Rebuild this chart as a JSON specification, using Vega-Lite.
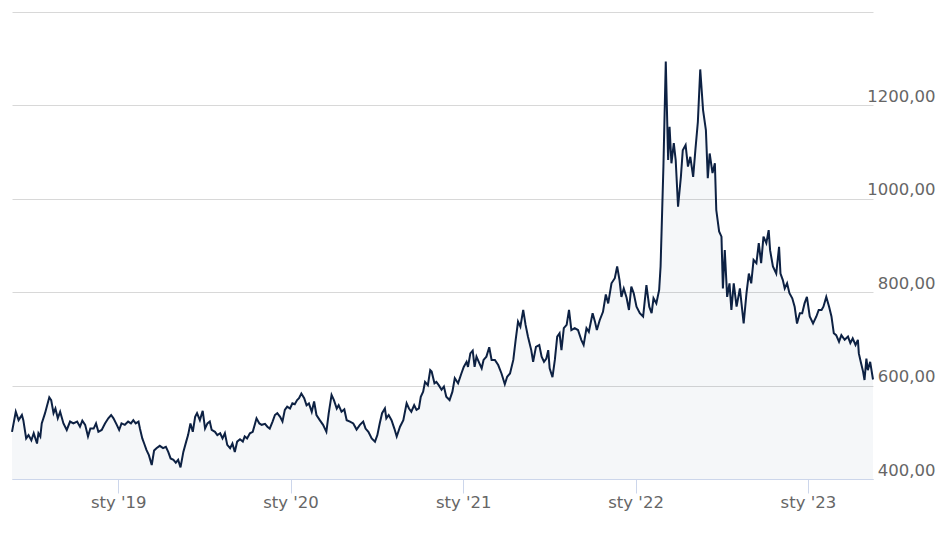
{
  "$schema": "https://vega.github.io/schema/vega-lite/v6.json",
  "width": 861,
  "height": 467,
  "autosize": {"type": "none"},
  "padding": {"left": 12, "top": 12, "right": 75, "bottom": 56},
  "background": "white",
  "config": {"view": {"stroke": null}, "font": "DejaVu Sans"},
  "data": {
    "values": [
      {"date": "2018-05-21", "price": 501}, {"date": "2018-05-29", "price": 544}, {"date": "2018-06-04", "price": 526},
      {"date": "2018-06-11", "price": 537}, {"date": "2018-06-14", "price": 526}, {"date": "2018-06-20", "price": 487},
      {"date": "2018-06-25", "price": 494}, {"date": "2018-07-01", "price": 483}, {"date": "2018-07-06", "price": 498},
      {"date": "2018-07-13", "price": 476}, {"date": "2018-07-16", "price": 498}, {"date": "2018-07-20", "price": 491},
      {"date": "2018-07-23", "price": 519}, {"date": "2018-07-30", "price": 541}, {"date": "2018-08-08", "price": 575},
      {"date": "2018-08-12", "price": 569}, {"date": "2018-08-17", "price": 541}, {"date": "2018-08-21", "price": 551},
      {"date": "2018-08-26", "price": 530}, {"date": "2018-08-31", "price": 544}, {"date": "2018-09-07", "price": 519},
      {"date": "2018-09-14", "price": 505}, {"date": "2018-09-21", "price": 523}, {"date": "2018-09-28", "price": 519},
      {"date": "2018-10-06", "price": 523}, {"date": "2018-10-12", "price": 512}, {"date": "2018-10-17", "price": 525},
      {"date": "2018-10-23", "price": 516}, {"date": "2018-10-29", "price": 491}, {"date": "2018-11-03", "price": 508},
      {"date": "2018-11-10", "price": 508}, {"date": "2018-11-15", "price": 519}, {"date": "2018-11-20", "price": 501},
      {"date": "2018-11-27", "price": 505}, {"date": "2018-12-04", "price": 519}, {"date": "2018-12-11", "price": 530},
      {"date": "2018-12-17", "price": 537}, {"date": "2018-12-22", "price": 530}, {"date": "2018-12-29", "price": 516},
      {"date": "2019-01-03", "price": 505}, {"date": "2019-01-08", "price": 519}, {"date": "2019-01-15", "price": 516},
      {"date": "2019-01-22", "price": 523}, {"date": "2019-01-28", "price": 519}, {"date": "2019-02-02", "price": 526},
      {"date": "2019-02-07", "price": 519}, {"date": "2019-02-13", "price": 523}, {"date": "2019-02-16", "price": 508},
      {"date": "2019-02-21", "price": 487}, {"date": "2019-02-25", "price": 476}, {"date": "2019-03-02", "price": 462},
      {"date": "2019-03-07", "price": 451}, {"date": "2019-03-13", "price": 430}, {"date": "2019-03-18", "price": 461},
      {"date": "2019-03-23", "price": 466}, {"date": "2019-03-30", "price": 471}, {"date": "2019-04-06", "price": 466},
      {"date": "2019-04-12", "price": 469}, {"date": "2019-04-17", "price": 458}, {"date": "2019-04-22", "price": 444},
      {"date": "2019-04-28", "price": 441}, {"date": "2019-05-03", "price": 435}, {"date": "2019-05-08", "price": 441},
      {"date": "2019-05-13", "price": 425}, {"date": "2019-05-19", "price": 458}, {"date": "2019-05-25", "price": 480},
      {"date": "2019-05-29", "price": 494}, {"date": "2019-06-03", "price": 519}, {"date": "2019-06-08", "price": 501},
      {"date": "2019-06-13", "price": 533}, {"date": "2019-06-17", "price": 541}, {"date": "2019-06-23", "price": 526},
      {"date": "2019-06-29", "price": 546}, {"date": "2019-07-04", "price": 508}, {"date": "2019-07-09", "price": 519},
      {"date": "2019-07-14", "price": 523}, {"date": "2019-07-18", "price": 505}, {"date": "2019-07-25", "price": 501},
      {"date": "2019-07-30", "price": 494}, {"date": "2019-08-05", "price": 498}, {"date": "2019-08-10", "price": 487},
      {"date": "2019-08-15", "price": 498}, {"date": "2019-08-20", "price": 473}, {"date": "2019-08-26", "price": 466},
      {"date": "2019-08-31", "price": 476}, {"date": "2019-09-05", "price": 458}, {"date": "2019-09-10", "price": 480},
      {"date": "2019-09-16", "price": 485}, {"date": "2019-09-22", "price": 480}, {"date": "2019-09-26", "price": 491},
      {"date": "2019-10-01", "price": 487}, {"date": "2019-10-07", "price": 498}, {"date": "2019-10-13", "price": 501},
      {"date": "2019-10-18", "price": 519}, {"date": "2019-10-21", "price": 530}, {"date": "2019-10-27", "price": 519},
      {"date": "2019-11-01", "price": 516}, {"date": "2019-11-08", "price": 518}, {"date": "2019-11-13", "price": 512},
      {"date": "2019-11-18", "price": 508}, {"date": "2019-11-24", "price": 523}, {"date": "2019-11-29", "price": 537},
      {"date": "2019-12-04", "price": 541}, {"date": "2019-12-10", "price": 533}, {"date": "2019-12-15", "price": 523},
      {"date": "2019-12-20", "price": 548}, {"date": "2019-12-25", "price": 555}, {"date": "2019-12-31", "price": 551},
      {"date": "2020-01-05", "price": 562}, {"date": "2020-01-10", "price": 560}, {"date": "2020-01-15", "price": 569},
      {"date": "2020-01-19", "price": 573}, {"date": "2020-01-24", "price": 583}, {"date": "2020-01-30", "price": 573},
      {"date": "2020-02-04", "price": 558}, {"date": "2020-02-09", "price": 562}, {"date": "2020-02-15", "price": 544},
      {"date": "2020-02-20", "price": 566}, {"date": "2020-02-25", "price": 537}, {"date": "2020-03-03", "price": 526},
      {"date": "2020-03-10", "price": 516}, {"date": "2020-03-17", "price": 501}, {"date": "2020-03-22", "price": 541},
      {"date": "2020-03-28", "price": 580}, {"date": "2020-04-02", "price": 569}, {"date": "2020-04-08", "price": 551},
      {"date": "2020-04-12", "price": 558}, {"date": "2020-04-18", "price": 544}, {"date": "2020-04-24", "price": 549},
      {"date": "2020-04-29", "price": 526}, {"date": "2020-05-06", "price": 523}, {"date": "2020-05-13", "price": 519},
      {"date": "2020-05-20", "price": 506}, {"date": "2020-05-27", "price": 516}, {"date": "2020-06-03", "price": 523},
      {"date": "2020-06-08", "price": 508}, {"date": "2020-06-14", "price": 501}, {"date": "2020-06-21", "price": 487},
      {"date": "2020-06-28", "price": 480}, {"date": "2020-07-03", "price": 494}, {"date": "2020-07-08", "price": 519},
      {"date": "2020-07-13", "price": 541}, {"date": "2020-07-19", "price": 551}, {"date": "2020-07-22", "price": 530},
      {"date": "2020-07-27", "price": 537}, {"date": "2020-08-02", "price": 526}, {"date": "2020-08-08", "price": 508},
      {"date": "2020-08-13", "price": 491}, {"date": "2020-08-20", "price": 512}, {"date": "2020-08-27", "price": 526},
      {"date": "2020-09-03", "price": 562}, {"date": "2020-09-08", "price": 551}, {"date": "2020-09-13", "price": 544},
      {"date": "2020-09-19", "price": 558}, {"date": "2020-09-24", "price": 548}, {"date": "2020-09-29", "price": 551},
      {"date": "2020-10-03", "price": 576}, {"date": "2020-10-08", "price": 587}, {"date": "2020-10-12", "price": 608},
      {"date": "2020-10-18", "price": 601}, {"date": "2020-10-23", "price": 633}, {"date": "2020-10-26", "price": 630},
      {"date": "2020-11-01", "price": 605}, {"date": "2020-11-05", "price": 608}, {"date": "2020-11-10", "price": 601},
      {"date": "2020-11-16", "price": 591}, {"date": "2020-11-21", "price": 598}, {"date": "2020-11-26", "price": 576},
      {"date": "2020-12-03", "price": 569}, {"date": "2020-12-09", "price": 587}, {"date": "2020-12-14", "price": 616},
      {"date": "2020-12-21", "price": 605}, {"date": "2020-12-28", "price": 626}, {"date": "2021-01-02", "price": 640},
      {"date": "2021-01-08", "price": 651}, {"date": "2021-01-11", "price": 640}, {"date": "2021-01-16", "price": 669},
      {"date": "2021-01-21", "price": 675}, {"date": "2021-01-25", "price": 640}, {"date": "2021-01-29", "price": 662},
      {"date": "2021-02-04", "price": 648}, {"date": "2021-02-09", "price": 637}, {"date": "2021-02-13", "price": 655},
      {"date": "2021-02-19", "price": 662}, {"date": "2021-02-25", "price": 682}, {"date": "2021-03-02", "price": 655},
      {"date": "2021-03-09", "price": 655}, {"date": "2021-03-16", "price": 644}, {"date": "2021-03-23", "price": 626},
      {"date": "2021-03-30", "price": 603}, {"date": "2021-04-04", "price": 619}, {"date": "2021-04-10", "price": 626},
      {"date": "2021-04-17", "price": 655}, {"date": "2021-04-22", "price": 698}, {"date": "2021-04-27", "price": 737},
      {"date": "2021-05-02", "price": 726}, {"date": "2021-05-08", "price": 762}, {"date": "2021-05-13", "price": 730},
      {"date": "2021-05-18", "price": 705}, {"date": "2021-05-25", "price": 676}, {"date": "2021-05-29", "price": 651},
      {"date": "2021-06-04", "price": 683}, {"date": "2021-06-11", "price": 687}, {"date": "2021-06-16", "price": 662},
      {"date": "2021-06-21", "price": 651}, {"date": "2021-06-26", "price": 658}, {"date": "2021-06-30", "price": 676},
      {"date": "2021-07-03", "price": 637}, {"date": "2021-07-09", "price": 618}, {"date": "2021-07-14", "price": 655},
      {"date": "2021-07-19", "price": 705}, {"date": "2021-07-24", "price": 712}, {"date": "2021-07-28", "price": 676},
      {"date": "2021-08-02", "price": 723}, {"date": "2021-08-08", "price": 730}, {"date": "2021-08-13", "price": 762},
      {"date": "2021-08-18", "price": 719}, {"date": "2021-08-25", "price": 723}, {"date": "2021-09-01", "price": 719},
      {"date": "2021-09-08", "price": 698}, {"date": "2021-09-13", "price": 687}, {"date": "2021-09-19", "price": 723},
      {"date": "2021-09-24", "price": 715}, {"date": "2021-10-02", "price": 755}, {"date": "2021-10-07", "price": 737},
      {"date": "2021-10-11", "price": 719}, {"date": "2021-10-17", "price": 740}, {"date": "2021-10-24", "price": 758},
      {"date": "2021-10-30", "price": 795}, {"date": "2021-11-04", "price": 776}, {"date": "2021-11-11", "price": 819},
      {"date": "2021-11-18", "price": 830}, {"date": "2021-11-23", "price": 855}, {"date": "2021-11-28", "price": 826},
      {"date": "2021-12-02", "price": 790}, {"date": "2021-12-07", "price": 808}, {"date": "2021-12-13", "price": 788},
      {"date": "2021-12-18", "price": 762}, {"date": "2021-12-23", "price": 812}, {"date": "2021-12-28", "price": 798},
      {"date": "2022-01-03", "price": 769}, {"date": "2022-01-10", "price": 755}, {"date": "2022-01-17", "price": 748},
      {"date": "2022-01-24", "price": 815}, {"date": "2022-01-30", "price": 769}, {"date": "2022-02-04", "price": 755},
      {"date": "2022-02-08", "price": 787}, {"date": "2022-02-14", "price": 776}, {"date": "2022-02-20", "price": 805},
      {"date": "2022-02-23", "price": 855}, {"date": "2022-02-25", "price": 926}, {"date": "2022-03-01", "price": 1069},
      {"date": "2022-03-06", "price": 1294}, {"date": "2022-03-11", "price": 1083}, {"date": "2022-03-14", "price": 1154},
      {"date": "2022-03-18", "price": 1076}, {"date": "2022-03-23", "price": 1119}, {"date": "2022-03-27", "price": 1083},
      {"date": "2022-04-01", "price": 983}, {"date": "2022-04-07", "price": 1047}, {"date": "2022-04-11", "price": 1104},
      {"date": "2022-04-17", "price": 1115}, {"date": "2022-04-22", "price": 1069}, {"date": "2022-04-27", "price": 1090},
      {"date": "2022-05-03", "price": 1047}, {"date": "2022-05-08", "price": 1108}, {"date": "2022-05-13", "price": 1165},
      {"date": "2022-05-18", "price": 1277}, {"date": "2022-05-24", "price": 1190}, {"date": "2022-05-30", "price": 1147},
      {"date": "2022-06-03", "price": 1044}, {"date": "2022-06-07", "price": 1097}, {"date": "2022-06-13", "price": 1055},
      {"date": "2022-06-18", "price": 1076}, {"date": "2022-06-21", "price": 976}, {"date": "2022-06-27", "price": 930},
      {"date": "2022-07-02", "price": 919}, {"date": "2022-07-05", "price": 808}, {"date": "2022-07-09", "price": 890},
      {"date": "2022-07-14", "price": 790}, {"date": "2022-07-19", "price": 819}, {"date": "2022-07-23", "price": 762},
      {"date": "2022-07-28", "price": 819}, {"date": "2022-08-03", "price": 769}, {"date": "2022-08-10", "price": 808},
      {"date": "2022-08-18", "price": 733}, {"date": "2022-08-24", "price": 798}, {"date": "2022-08-29", "price": 840},
      {"date": "2022-09-03", "price": 819}, {"date": "2022-09-08", "price": 869}, {"date": "2022-09-14", "price": 862},
      {"date": "2022-09-19", "price": 905}, {"date": "2022-09-24", "price": 862}, {"date": "2022-09-29", "price": 919},
      {"date": "2022-10-05", "price": 905}, {"date": "2022-10-10", "price": 933}, {"date": "2022-10-13", "price": 890},
      {"date": "2022-10-19", "price": 855}, {"date": "2022-10-26", "price": 840}, {"date": "2022-11-01", "price": 897},
      {"date": "2022-11-04", "price": 840}, {"date": "2022-11-09", "price": 826}, {"date": "2022-11-13", "price": 808},
      {"date": "2022-11-18", "price": 819}, {"date": "2022-11-23", "price": 798}, {"date": "2022-11-29", "price": 787},
      {"date": "2022-12-04", "price": 769}, {"date": "2022-12-09", "price": 733}, {"date": "2022-12-15", "price": 755},
      {"date": "2022-12-20", "price": 755}, {"date": "2022-12-25", "price": 776}, {"date": "2022-12-30", "price": 790},
      {"date": "2023-01-05", "price": 748}, {"date": "2023-01-12", "price": 733}, {"date": "2023-01-19", "price": 748},
      {"date": "2023-01-24", "price": 762}, {"date": "2023-01-30", "price": 762}, {"date": "2023-02-03", "price": 769},
      {"date": "2023-02-09", "price": 790}, {"date": "2023-02-15", "price": 769}, {"date": "2023-02-20", "price": 748},
      {"date": "2023-02-25", "price": 712}, {"date": "2023-03-02", "price": 708}, {"date": "2023-03-08", "price": 694},
      {"date": "2023-03-13", "price": 708}, {"date": "2023-03-20", "price": 698}, {"date": "2023-03-27", "price": 705},
      {"date": "2023-04-01", "price": 691}, {"date": "2023-04-06", "price": 701}, {"date": "2023-04-12", "price": 687},
      {"date": "2023-04-17", "price": 698}, {"date": "2023-04-19", "price": 669}, {"date": "2023-04-23", "price": 651},
      {"date": "2023-04-28", "price": 630}, {"date": "2023-05-01", "price": 612}, {"date": "2023-05-05", "price": 658},
      {"date": "2023-05-08", "price": 633}, {"date": "2023-05-13", "price": 651}, {"date": "2023-05-19", "price": 613}
    ]
  },
  "encoding": {
    "x": {
      "field": "date",
      "type": "temporal",
      "scale": {
        "type": "utc",
        "domain": [
          {"year": 2018, "month": 5, "date": 21, "utc": true},
          {"year": 2023, "month": 5, "date": 19, "utc": true}
        ]
      },
      "axis": {
        "title": null,
        "grid": false,
        "zindex": 1,
        "values": [
          {"year": 2019, "month": 1, "date": 1, "utc": true},
          {"year": 2020, "month": 1, "date": 1, "utc": true},
          {"year": 2021, "month": 1, "date": 1, "utc": true},
          {"year": 2022, "month": 1, "date": 1, "utc": true},
          {"year": 2023, "month": 1, "date": 1, "utc": true}
        ],
        "labelExpr": "\"sty '\" + utcFormat(datum.value, '%y')",
        "domainColor": "#ccd6eb",
        "domainWidth": 1,
        "tickColor": "#ccd6eb",
        "tickSize": 14,
        "tickWidth": 1,
        "labelPadding": 1,
        "labelFont": "DejaVu Sans",
        "labelFontSize": 16.5,
        "labelColor": "#666666"
      }
    },
    "y": {
      "field": "price",
      "type": "quantitative",
      "scale": {"domain": [400, 1400], "zero": false, "nice": false},
      "axis": {
        "title": null,
        "orient": "right",
        "values": [400, 600, 800, 1000, 1200, 1400],
        "labelExpr": "datum.value >= 1400 ? '' : replace(format(datum.value, '.2f'), '.', ',')",
        "domain": false,
        "ticks": false,
        "gridColor": "#d8d8d8",
        "gridWidth": 1,
        "labelAlign": "right",
        "labelBaseline": "alphabetic",
        "labelOffset": -4,
        "labelPadding": 62,
        "labelFont": "DejaVu Sans",
        "labelFontSize": 16.5,
        "labelColor": "#666666"
      }
    }
  },
  "layer": [
    {
      "mark": {"type": "area", "color": "#1a3a6e", "fillOpacity": 0.045},
      "encoding": {"y2": {"datum": 400}}
    },
    {
      "mark": {"type": "line", "color": "#0d2143", "strokeWidth": 2}
    }
  ]
}
